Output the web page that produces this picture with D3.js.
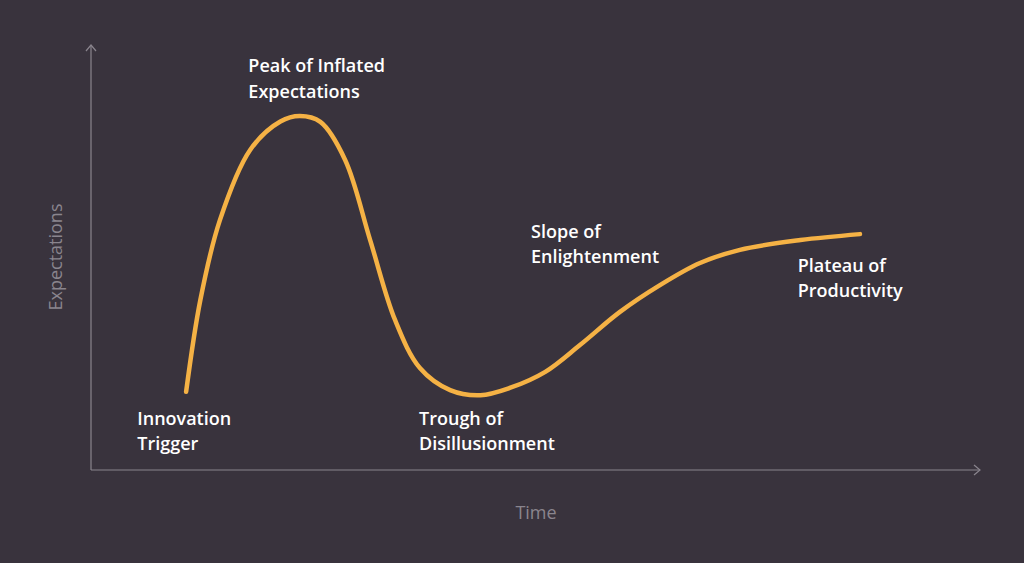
<!DOCTYPE html>
<html><head><meta charset="utf-8">
<script src="https://cdn.jsdelivr.net/npm/d3@7"></script>
<style>body{margin:0;background:#39333d}</style>
</head><body>
<svg id="chart" width="1024" height="563"></svg>
<script>
// hype cycle curve, time vs expectations (0-100)
const time = [10.7,12.3,14.5,17.9,21.3,23.5,25.8,28.6,31.4,34.2,37.0,40.4,43.8,47.1,51.1,55.0,59.5,64.0,68.5,73.0,79.8,86.5];
const expectations = [18.4,40,58.8,75.3,82.0,83.3,81.9,72.9,54.1,35.3,24,18.8,17.6,19.3,23.1,29.4,37.2,43.5,48.7,51.8,54.1,55.5];
const phases = ["Innovation\nTrigger","Peak of Inflated\nExpectations","Trough of\nDisillusionment","Slope of\nEnlightenment","Plateau of\nProductivity"];
const phaseT = [5.2,17.7,36.9,49.5,79.5];
const phaseE = [10.6,93.6,10.6,54.6,46.6];

const svg = d3.select("#chart");
const x = d3.scaleLinear().domain([0,100]).range([91,980]);
const y = d3.scaleLinear().domain([0,100]).range([470,45]);
const axisCol = "#8a858e";

// axes with arrows
svg.append("line").attr("x1",x(0)).attr("y1",y(0)).attr("x2",x(0)).attr("y2",y(100)).attr("stroke",axisCol).attr("stroke-width",1.2);
svg.append("line").attr("x1",x(0)).attr("y1",y(0)).attr("x2",x(100)).attr("y2",y(0)).attr("stroke",axisCol).attr("stroke-width",1.2);
svg.append("path").attr("d",`M${x(0)-5},${y(100)+6}L${x(0)},${y(100)}L${x(0)+5},${y(100)+6}`).attr("fill","none").attr("stroke",axisCol).attr("stroke-width",1.2);
svg.append("path").attr("d",`M${x(100)-6},${y(0)-5}L${x(100)},${y(0)}L${x(100)-6},${y(0)+5}`).attr("fill","none").attr("stroke",axisCol).attr("stroke-width",1.2);

svg.append("text").attr("x",536).attr("y",519).attr("text-anchor","middle")
  .attr("fill",axisCol).attr("font-family","'Open Sans', sans-serif").attr("font-size",18).text("Time");
svg.append("text").attr("transform","translate(62,257) rotate(-90)").attr("text-anchor","middle")
  .attr("fill",axisCol).attr("font-family","'Open Sans', sans-serif").attr("font-size",18).text("Expectations");

const line = d3.line().x((d,i)=>x(time[i])).y((d,i)=>y(expectations[i])).curve(d3.curveCatmullRom);
svg.append("path").datum(time).attr("d",line).attr("fill","none")
  .attr("stroke","#f5b245").attr("stroke-width",4.5).attr("stroke-linecap","round");

phases.forEach((p,i)=>{
  const t = svg.append("text").attr("x",x(phaseT[i])).attr("y",y(phaseE[i]))
    .attr("fill","#ffffff").attr("font-family","'Open Sans', sans-serif").attr("font-weight",600).attr("font-size",18);
  p.split("\n").forEach((s,j)=>t.append("tspan").attr("x",x(phaseT[i])).attr("dy",j?25.5:0).text(s));
});
</script>
</body></html>
